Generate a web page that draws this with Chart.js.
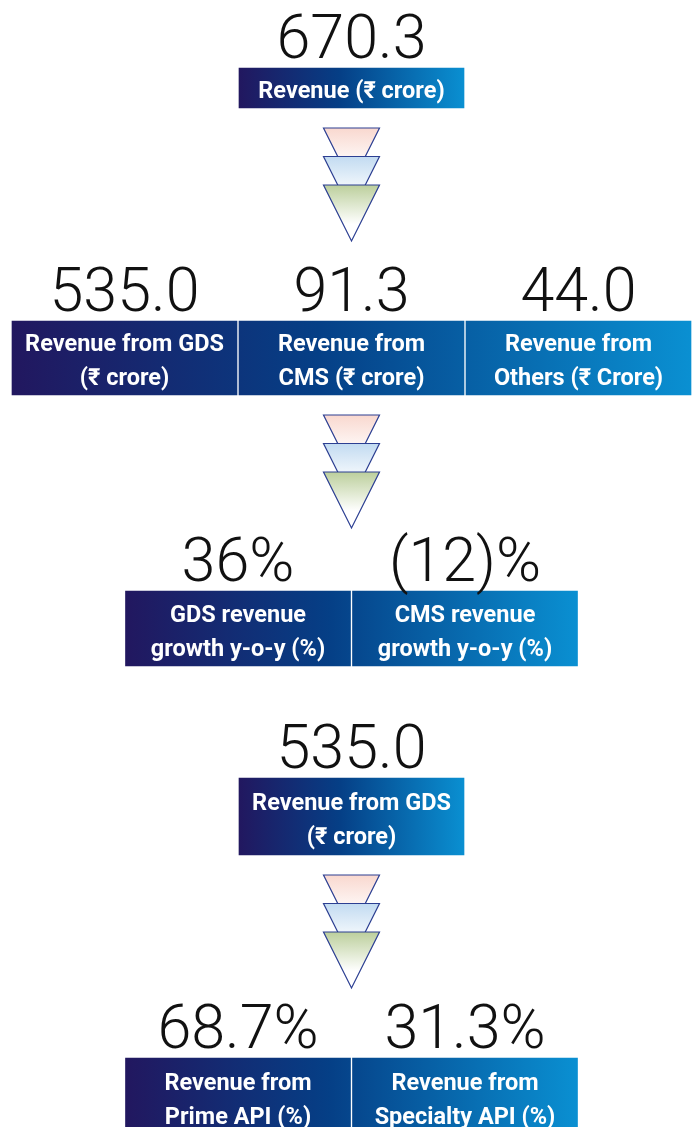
<!DOCTYPE html>
<html>
<head>
<meta charset="utf-8">
<script src="https://cdn.jsdelivr.net/npm/chart.js@4.4.1/dist/chart.umd.min.js"></script>
<style>
  html, body { margin: 0; padding: 0; background: #fff; }
  canvas { display: block; }
</style>
</head>
<body>
<canvas id="flowChart" width="694" height="1127"></canvas>
<script>
// headline figures
const totalLabels = [['Revenue (₹ crore)']];
const totalValues = [670.3];

const segmentLabels = [
  ['Revenue from GDS', '(₹ crore)'],
  ['Revenue from', 'CMS (₹ crore)'],
  ['Revenue from', 'Others (₹ Crore)']
];
const segmentValues = [535.0, 91.3, 44.0];

const growthLabels = [
  ['GDS revenue', 'growth y-o-y (%)'],
  ['CMS revenue', 'growth y-o-y (%)']
];
const growthValues = [36, -12];

const gdsLabels = [['Revenue from GDS', '(₹ crore)']];
const gdsValues = [535.0];

const apiLabels = [
  ['Revenue from', 'Prime API (%)'],
  ['Revenue from', 'Specialty API (%)']
];
const apiValues = [68.7, 31.3];

// number formats
const crore = v => v.toFixed(1);
const growth = v => (v < 0 ? '(' + Math.abs(v) + ')' : v) + '%';
const share = v => v.toFixed(1) + '%';

const rows = [
  { labels: totalLabels, values: totalValues, fmt: crore },
  { labels: segmentLabels, values: segmentValues, fmt: crore },
  { labels: growthLabels, values: growthValues, fmt: growth },
  { labels: gdsLabels, values: gdsValues, fmt: crore },
  { labels: apiLabels, values: apiValues, fmt: share }
];

// layout, in px
const CENTER_X = 351.5;
const CELL_W = 227;
const rowTop = [68, 321, 591, 778, 1058];
const rowHeight = [40, 74, 75, 77, 77];
const arrowsAfter = [0, 1, 3];
const arrowColors = ['#f9d8cf', '#c2dbf1', '#bccf9c'];

const rowLeft = r => CENTER_X - rows[r].values.length * CELL_W / 2;
const rowRight = r => CENTER_X + rows[r].values.length * CELL_W / 2;

const datasets = rows.map((row, r) => ({
  data: row.values.map((v, i) => {
    const x0 = rowLeft(r) + i * CELL_W;
    return { x: [x0 + 1, x0 + CELL_W - 1], y: rowTop[r] + rowHeight[r] / 2 };
  }),
  barThickness: rowHeight[r],
  skipNull: true,
  borderWidth: 0,
  backgroundColor: (c) => {
    const chart = c.chart;
    if (!chart.chartArea) return '#043f86';
    const sx = chart.scales.x;
    const g = chart.ctx.createLinearGradient(sx.getPixelForValue(rowLeft(r)), 0, sx.getPixelForValue(rowRight(r)), 0);
    g.addColorStop(0, '#22175f');
    g.addColorStop(0.45, '#053f86');
    g.addColorStop(1, '#0a90d2');
    return g;
  }
}));

const textPlugin = {
  id: 'cellText',
  afterDatasetsDraw(chart) {
    const ctx = chart.ctx;
    ctx.save();
    ctx.textAlign = 'center';
    ctx.textBaseline = 'alphabetic';
    rows.forEach((row, r) => {
      chart.getDatasetMeta(r).data.forEach((bar, i) => {
        const cx = (bar.x + bar.base) / 2;
        const top = bar.y - bar.height / 2;
        ctx.fillStyle = '#111111';
        ctx.font = '300 61px Roboto, "DejaVu Sans", sans-serif';
        ctx.fillText(row.fmt(row.values[i]), cx, top - 10);
        const lines = row.labels[i];
        ctx.fillStyle = '#ffffff';
        ctx.font = 'bold 23.5px Roboto, "Noto Sans", "DejaVu Sans", sans-serif';
        lines.forEach((t, k) => {
          ctx.fillText(t, cx, bar.y + 10 + (k - (lines.length - 1) / 2) * 34);
        });
      });
    });
    ctx.restore();
  }
};

const arrowPlugin = {
  id: 'arrows',
  afterDatasetsDraw(chart) {
    const ctx = chart.ctx;
    const cx = chart.scales.x.getPixelForValue(CENTER_X);
    ctx.save();
    arrowsAfter.forEach(r => {
      const bar = chart.getDatasetMeta(r).data[0];
      const top = bar.y + bar.height / 2 + 20;
      arrowColors.forEach((col, k) => {
        const y0 = top + k * 28.5, h = 56, hw = 28;
        const g = ctx.createLinearGradient(0, y0, 0, y0 + h);
        g.addColorStop(0, col);
        g.addColorStop(0.7, '#ffffff');
        ctx.beginPath();
        ctx.moveTo(cx - hw, y0);
        ctx.lineTo(cx + hw, y0);
        ctx.lineTo(cx, y0 + h);
        ctx.closePath();
        ctx.fillStyle = g;
        ctx.fill();
        ctx.strokeStyle = '#2c3f92';
        ctx.lineWidth = 1.2;
        ctx.stroke();
      });
    });
    ctx.restore();
  }
};

const chart = new Chart(document.getElementById('flowChart'), {
  type: 'bar',
  data: { datasets: datasets },
  options: {
    indexAxis: 'y',
    responsive: false,
    animation: false,
    devicePixelRatio: 1,
    layout: { padding: 0 },
    plugins: {
      legend: { display: false },
      tooltip: { enabled: false }
    },
    scales: {
      x: { type: 'linear', min: 0, max: 694, offset: false, display: false },
      y: { type: 'linear', min: 0, max: 1127, reverse: true, offset: false, display: false }
    }
  },
  plugins: [arrowPlugin, textPlugin]
});
</script>
</body>
</html>
